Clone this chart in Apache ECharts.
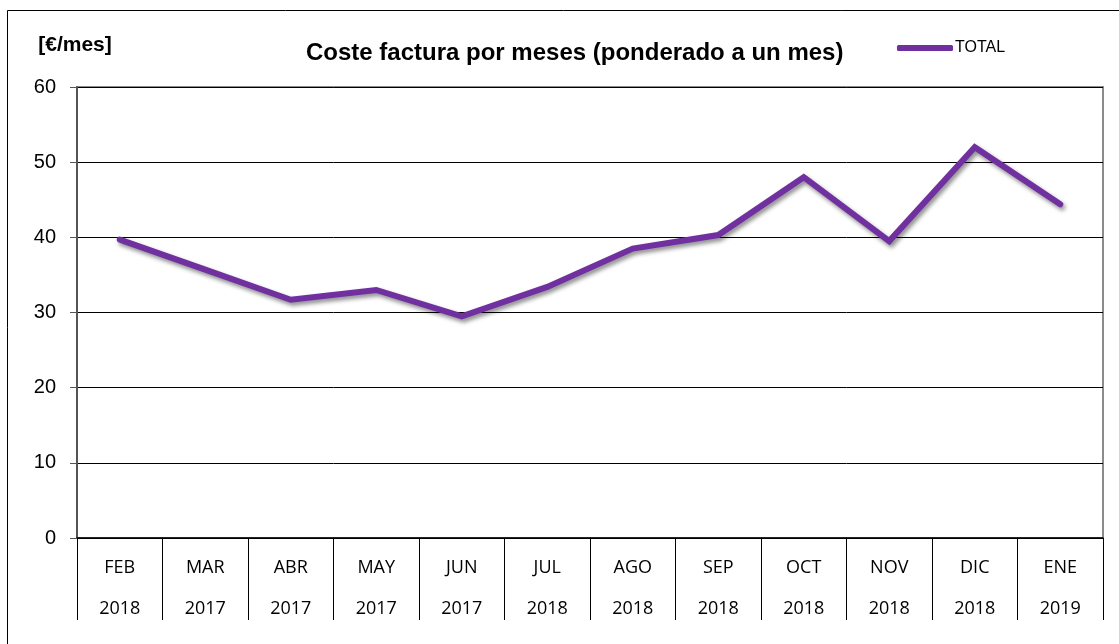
<!DOCTYPE html>
<html>
<head>
<meta charset="utf-8">
<script src="https://cdn.jsdelivr.net/npm/echarts@6/dist/echarts.min.js"></script>
<style>
  html, body { margin: 0; padding: 0; background: #fff; }
  #chart { width: 1119px; height: 644px; }
</style>
</head>
<body>
<div id="chart"></div>
<script>
// datos
var months = ['FEB', 'MAR', 'ABR', 'MAY', 'JUN', 'JUL', 'AGO', 'SEP', 'OCT', 'NOV', 'DIC', 'ENE'];
var years = ['2018', '2017', '2017', '2017', '2017', '2018', '2018', '2018', '2018', '2018', '2018', '2019'];
var total = [39.7, 35.7, 31.7, 33.0, 29.5, 33.4, 38.5, 40.3, 48.0, 39.5, 52.0, 44.4];
var yTicks = [0, 10, 20, 30, 40, 50, 60];

var categories = months.map(function (m, i) { return m + '\n' + years[i]; });

var chart = echarts.init(document.getElementById('chart'));
chart.setOption({
  animation: false,
  backgroundColor: '#fff',
  title: {
    text: 'Coste factura por meses (ponderado a un mes)',
    left: 306,
    top: 41,
    padding: 0,
    textStyle: {
      fontFamily: 'Liberation Sans',
      fontSize: 24,
      fontWeight: 'bold',
      color: '#000'
    }
  },
  legend: {
    left: 897,
    top: 40,
    padding: 0,
    itemWidth: 56,
    itemHeight: 6,
    icon: 'roundRect',
    textStyle: {
      fontFamily: 'Liberation Sans',
      fontSize: 16,
      color: '#000',
      padding: [0, 0, 0, -3]
    },
    data: ['TOTAL']
  },
  graphic: [{
    type: 'rect',
    shape: { x: 7.5, y: 10.5, width: 1300, height: 800 },
    style: { fill: 'none', stroke: '#000', lineWidth: 1 },
    silent: true
  }],
  grid: {
    left: 77,
    right: 16,
    top: 87,
    bottom: 106,
    show: true,
    borderColor: '#8c8c8c',
    borderWidth: 2
  },
  xAxis: {
    type: 'category',
    data: categories,
    boundaryGap: true,
    axisLine: { lineStyle: { color: '#000', width: 1.5 } },
    axisTick: {
      show: true,
      interval: 0,
      length: 82,
      lineStyle: { color: '#000', width: 1 }
    },
    axisLabel: {
      interval: 0,
      margin: 9,
      lineHeight: 41,
      fontFamily: 'Open Sans',
      fontSize: 18,
      color: '#000'
    }
  },
  yAxis: {
    type: 'value',
    min: yTicks[0],
    max: yTicks[yTicks.length - 1],
    interval: 10,
    name: '[€/mes]',
    nameLocation: 'end',
    nameGap: 42,
    nameTextStyle: {
      fontFamily: 'Liberation Sans',
      fontSize: 21,
      fontWeight: 'bold',
      color: '#000',
      verticalAlign: 'middle',
      padding: [0, 4, 0, 0]
    },
    axisLine: { show: true, lineStyle: { color: '#555', width: 2 } },
    axisTick: { show: true, length: 7, lineStyle: { color: '#555' } },
    axisLabel: {
      margin: 21,
      fontFamily: 'Liberation Sans',
      fontSize: 20,
      color: '#000'
    },
    splitLine: { show: true, lineStyle: { color: '#000', width: 1 } }
  },
  series: [{
    name: 'TOTAL',
    type: 'line',
    data: total,
    showSymbol: false,
    symbol: 'none',
    color: '#7030A0',
    lineStyle: {
      color: '#7030A0',
      width: 6,
      cap: 'round',
      join: 'miter',
      shadowColor: 'rgba(0,0,0,0.45)',
      shadowBlur: 4,
      shadowOffsetX: 2,
      shadowOffsetY: 3
    }
  }]
});
</script>
</body>
</html>
